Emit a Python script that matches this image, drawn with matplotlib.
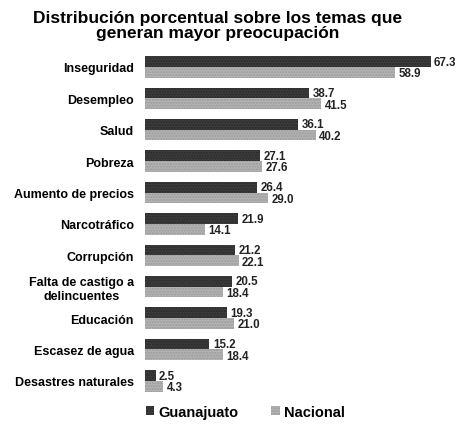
import matplotlib
matplotlib.use("Agg")
import matplotlib.pyplot as plt
import numpy as np
from matplotlib.patches import Patch

categories = ["Inseguridad", "Desempleo", "Salud", "Pobreza", "Aumento de precios",
              "Narcotráfico", "Corrupción", "Falta de castigo a\ndelincuentes",
              "Educación", "Escasez de agua", "Desastres naturales"]
guanajuato = [67.3, 38.7, 36.1, 27.1, 26.4, 21.9, 21.2, 20.5, 19.3, 15.2, 2.5]
nacional = [58.9, 41.5, 40.2, 27.6, 29.0, 14.1, 22.1, 18.4, 21.0, 18.4, 4.3]
series_names = ["Guanajuato", "Nacional"]
title = "Distribución porcentual sobre los temas que\ngeneran mayor preocupación"

plt.rcParams['font.family'] = ['Liberation Sans', 'DejaVu Sans']

fig = plt.figure(figsize=(4.63, 4.27), dpi=100)
ax = fig.add_axes([0.313, 0.069, 0.66, 0.8085])

dark = '#3c3c3c'
light = '#b4b4b4'
y = np.arange(len(categories))
h = 0.34
ax.barh(y - h/2, guanajuato, height=h, color=dark, hatch='......', edgecolor='#2a2a2a', linewidth=0)
ax.barh(y + h/2, nacional, height=h, color=light, hatch='......', edgecolor='#9a9a9a', linewidth=0)

for i in range(len(categories)):
    ax.text(guanajuato[i] + 0.8, y[i] - h/2, f"{guanajuato[i]:.1f}", va='center', ha='left',
            fontsize=8.3, fontweight='bold', color='#222222')
    ax.text(nacional[i] + 0.8, y[i] + h/2 + 0.03, f"{nacional[i]:.1f}", va='center', ha='left',
            fontsize=8.3, fontweight='bold', color='#222222')

ax.set_yticks(y)
ax.set_yticklabels(categories, fontsize=9, fontweight='bold', multialignment='center')
ax.set_ylim(len(categories) - 0.5, -0.5)
ax.set_xlim(0, 72)
ax.set_xticks([])
ax.tick_params(axis='y', length=0, pad=8)
for s in ax.spines.values():
    s.set_visible(False)

fig.text(0.47, 0.975, title, ha='center', va='top', fontsize=12.5, fontweight='bold',
         linespacing=1.0)

handles = [Patch(facecolor=dark, hatch='......', edgecolor='#2a2a2a', linewidth=0),
           Patch(facecolor=light, hatch='......', edgecolor='#9a9a9a', linewidth=0)]
fig.legend(handles, series_names, loc='center', bbox_to_anchor=(0.53, 0.033), ncol=2,
           frameon=False, prop={'weight': 'bold', 'size': 10.5}, handlelength=0.6,
           handleheight=0.6, handletextpad=0.3, columnspacing=2.2)

fig.savefig("out.png", dpi=100)
